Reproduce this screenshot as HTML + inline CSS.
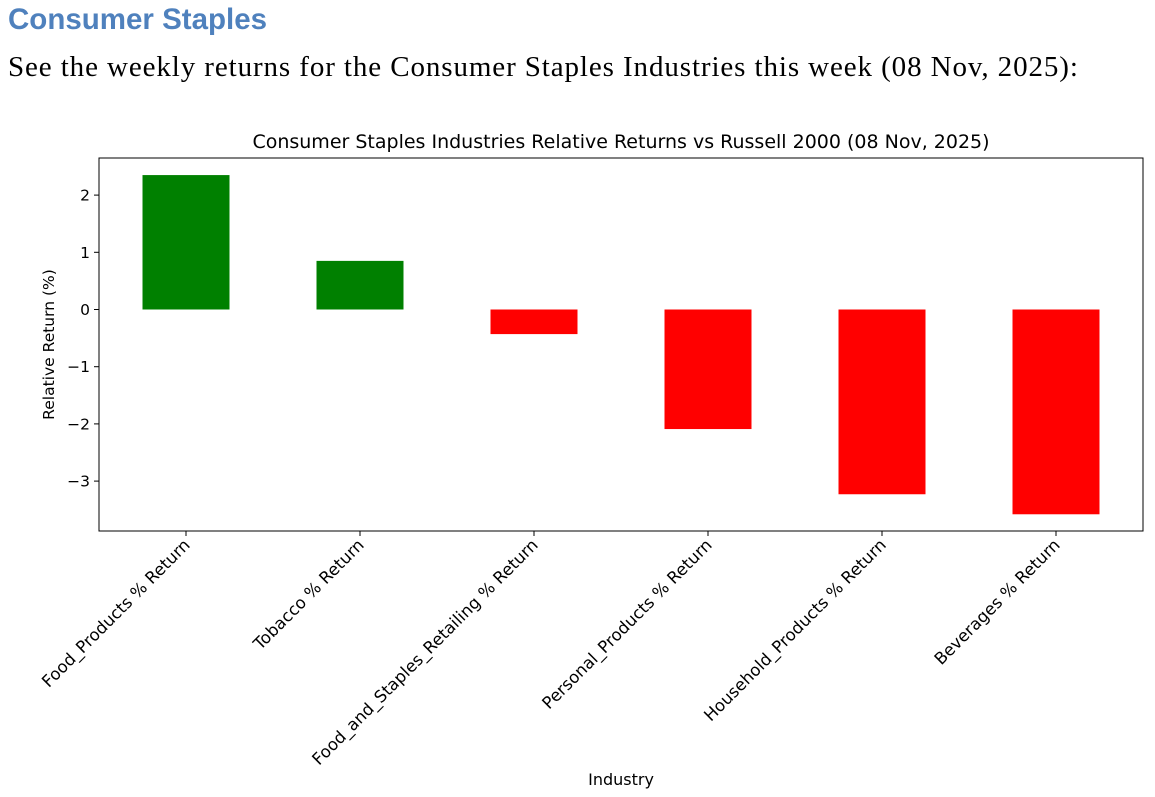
<!DOCTYPE html>
<html><head><meta charset="utf-8">
<style>
body{margin:0;background:#fff;width:1155px;height:797px;overflow:hidden;position:relative}
#h1{position:absolute;left:8px;top:3px;font-family:"Liberation Sans",sans-serif;font-weight:bold;font-size:29.5px;color:#4f81bd}
#h2{position:absolute;left:8px;top:51px;font-family:"Liberation Serif",serif;font-size:29px;letter-spacing:0.9px;color:#000}
svg{position:absolute;left:0;top:0}
svg text{font-family:"DejaVu Sans","Liberation Sans",sans-serif;fill:#000}
</style></head><body>
<div id="h1">Consumer Staples</div>
<div id="h2">See the weekly returns for the Consumer Staples Industries this week (08 Nov, 2025):</div>
<svg id="chart" width="1155" height="797"></svg>
<script>
const categories=["Food_Products % Return","Tobacco % Return","Food_and_Staples_Retailing % Return","Personal_Products % Return","Household_Products % Return","Beverages % Return"];
const values=[2.35,0.85,-0.43,-2.09,-3.23,-3.58];
const yTicks=[2,1,0,-1,-2,-3];
const NS="http://www.w3.org/2000/svg";
const svg=document.getElementById('chart');
const L=99,R=1143,T=158,B=531;
const y0=309.5,ppu=57.2;
function y(v){return y0-v*ppu;}
const bw=(R-L)/categories.length;
function xc(i){return L+(i+0.5)*bw;}
function mk(t,a,p){const e=document.createElementNS(NS,t);for(const k in a)e.setAttribute(k,a[k]);(p||svg).appendChild(e);return e;}
values.forEach((v,i)=>{
  const r=mk('rect',{x:xc(i)-bw*0.25,width:bw*0.5,y:Math.min(y(v),y(0)),height:Math.abs(y(v)-y(0)),fill:v>=0?'#008000':'#ff0000'});
  
  
});
const frame=mk('rect',{x:L,y:T,width:R-L,height:B-T,fill:'none',stroke:'#000','stroke-width':1});


yTicks.forEach(t=>{
  mk('line',{x1:L-5,x2:L,y1:y(t),y2:y(t),stroke:'#000'});
  const tx=mk('text',{x:L-9,y:y(t)+5.5,'text-anchor':'end','font-size':15.5});
  tx.textContent=(t<0?'\u2212'+(-t):t);
  
  
});
categories.forEach((c,i)=>{
  mk('line',{x1:xc(i),x2:xc(i),y1:B,y2:B+5,stroke:'#000'});
  const tx=mk('text',{x:xc(i)+5,y:B+15,'text-anchor':'end','font-size':16.6,transform:`rotate(-45 ${xc(i)+5} ${B+15})`});
  tx.textContent=c;
  
  
});
const ti=mk('text',{x:(L+R)/2,y:148,'text-anchor':'middle','font-size':19});
ti.textContent='Consumer Staples Industries Relative Returns vs Russell 2000 (08 Nov, 2025)';


const yl=mk('text',{x:54,y:(T+B)/2,'text-anchor':'middle','font-size':15.5,transform:`rotate(-90 54 ${(T+B)/2})`});
yl.textContent='Relative Return (%)';


const xl=mk('text',{x:(L+R)/2,y:785,'text-anchor':'middle','font-size':16});
xl.textContent='Industry';


</script>
</body></html>
